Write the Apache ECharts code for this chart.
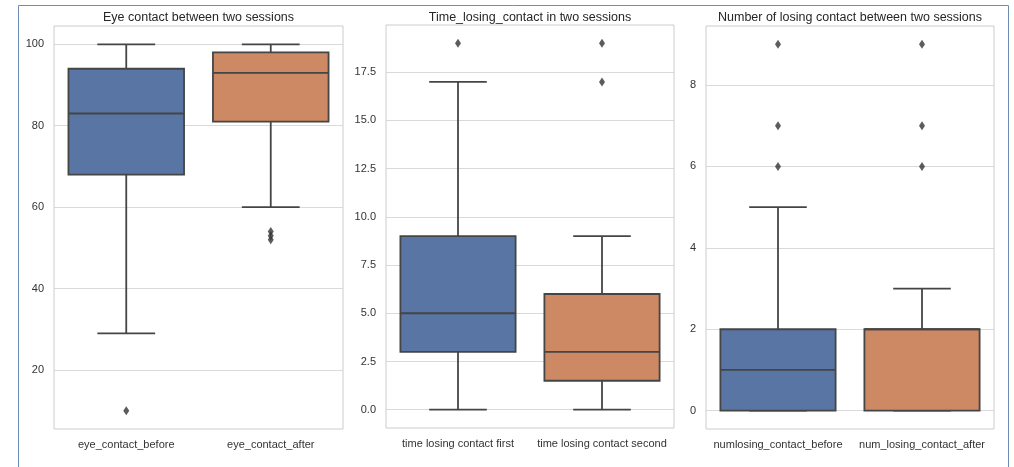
<!DOCTYPE html>
<html>
<head>
<meta charset="utf-8">
<script src="https://cdn.jsdelivr.net/npm/echarts@6/dist/echarts.min.js"></script>
<style>
  html, body { margin: 0; padding: 0; background: #fff; }
  #chart { width: 1014px; height: 467px; }
</style>
</head>
<body>
<div id="chart"></div>
<script>
// panel 1
const eye_cats = ["eye_contact_before", "eye_contact_after"];
const eye_box = [[29, 68, 83, 94, 100], [60, 81, 93, 98, 100]]; // min, q1, median, q3, max
const eye_out = [[0, 10], [1, 52], [1, 53], [1, 54]];
const eye_ticks = [20, 40, 60, 80, 100];

// panel 2
const time_cats = ["time losing contact first", "time losing contact second"];
const time_box = [[0, 3, 5, 9, 17], [0, 1.5, 3, 6, 9]];
const time_out = [[0, 19], [1, 17], [1, 19]];
const time_ticks = [0, 2.5, 5, 7.5, 10, 12.5, 15, 17.5];

// panel 3
const num_cats = ["numlosing_contact_before", "num_losing_contact_after"];
const num_box = [[0, 0, 1, 2, 5], [0, 0, 2, 2, 3]];
const num_out = [[0, 6], [0, 7], [0, 9], [1, 6], [1, 7], [1, 9]];
const num_ticks = [0, 2, 4, 6, 8];

const titles = [
    "Eye contact between two sessions",
    "Time_losing_contact in two sessions",
    "Number of losing contact between two sessions",
];

const BOX_COLORS = ["#5875a4", "#cc8963"];
const LINE = "#454545";
const FONT = "Liberation Sans";

// seaborn style box: caps are half the box width
function render_box(params, api) {
    const idx = api.value(0);
    const lo = api.coord([idx, api.value(1)]);
    const q1 = api.coord([idx, api.value(2)]);
    const med = api.coord([idx, api.value(3)]);
    const q3 = api.coord([idx, api.value(4)]);
    const hi = api.coord([idx, api.value(5)]);
    const bw = api.size([1, 0])[0] * 0.8;
    const cx = lo[0];
    const line_style = { stroke: LINE, lineWidth: 1.8 };
    const seg = (x1, y1, x2, y2) => ({
        type: "line",
        shape: { x1, y1, x2, y2 },
        style: line_style,
    });
    return {
        type: "group",
        children: [
            seg(cx, hi[1], cx, q3[1]),
            seg(cx, q1[1], cx, lo[1]),
            seg(cx - bw / 4, hi[1], cx + bw / 4, hi[1]),
            seg(cx - bw / 4, lo[1], cx + bw / 4, lo[1]),
            {
                type: "rect",
                shape: { x: cx - bw / 2, y: q3[1], width: bw, height: q1[1] - q3[1] },
                style: { fill: BOX_COLORS[params.dataIndex], stroke: LINE, lineWidth: 1.8 },
            },
            seg(cx - bw / 2, med[1], cx + bw / 2, med[1]),
        ],
    };
}

const grids = [
    { left: 54, top: 26, width: 289, height: 403 },
    { left: 386, top: 25, width: 288, height: 403 },
    { left: 706, top: 26, width: 288, height: 403 },
];
// axis ranges follow matplotlib's 5% margins around the data
const y_specs = [
    { min: 5.5, max: 104.5, ticks: eye_ticks, fmt: (v) => String(v) },
    { min: -0.95, max: 19.95, ticks: time_ticks, fmt: (v) => Number(v).toFixed(1) },
    { min: -0.45, max: 9.45, ticks: num_ticks, fmt: (v) => String(v) },
];
const cats = [eye_cats, time_cats, num_cats];
const boxes = [eye_box, time_box, num_box];
const outs = [eye_out, time_out, num_out];

const option = {
    animation: false,
    backgroundColor: "#fff",
    textStyle: { fontFamily: FONT },
    title: titles.map((t, i) => ({
        text: t,
        left: grids[i].left + grids[i].width / 2,
        textAlign: "center",
        top: 11,
        padding: 0,
        textStyle: { fontSize: 12.5, fontWeight: "normal", color: "#262626", fontFamily: FONT },
    })),
    grid: grids.map((g) => ({ ...g, show: true, borderColor: "#cccccc", borderWidth: 1 })),
    xAxis: cats.map((c, i) => ({
        type: "category",
        gridIndex: i,
        data: c,
        axisLine: { show: false },
        axisTick: { show: false },
        axisLabel: { color: "#333", fontSize: 11, margin: 10, interval: 0, fontFamily: FONT },
        splitLine: { show: false },
    })),
    yAxis: y_specs.map((s, i) => ({
        type: "value",
        gridIndex: i,
        min: s.min,
        max: s.max,
        axisLine: { show: false },
        axisTick: { show: false, customValues: s.ticks },
        axisLabel: {
            color: "#333",
            fontSize: 11,
            margin: 10,
            fontFamily: FONT,
            customValues: s.ticks,
            formatter: s.fmt,
        },
        splitLine: { customValues: s.ticks, lineStyle: { color: "#d9d9d9", width: 1 } },
    })),
    series: [
        ...boxes.map((b, i) => ({
            type: "custom",
            xAxisIndex: i,
            yAxisIndex: i,
            renderItem: render_box,
            encode: { x: 0, y: [1, 2, 3, 4, 5] },
            data: b.map((row, k) => [k, ...row]),
        })),
        ...outs.map((o, i) => ({
            type: "scatter",
            xAxisIndex: i,
            yAxisIndex: i,
            symbol: "diamond",
            symbolSize: [6, 9],
            itemStyle: { color: "#333" },
            data: o,
        })),
    ],
    graphic: [
        {
            type: "rect",
            silent: true,
            shape: { x: 18.5, y: 5.5, width: 990, height: 470 },
            style: { fill: null, stroke: "#6f8db0", lineWidth: 1 },
        },
    ],
};

const chart = echarts.init(document.getElementById("chart"), null, { renderer: "canvas" });
chart.setOption(option);
</script>
</body>
</html>
